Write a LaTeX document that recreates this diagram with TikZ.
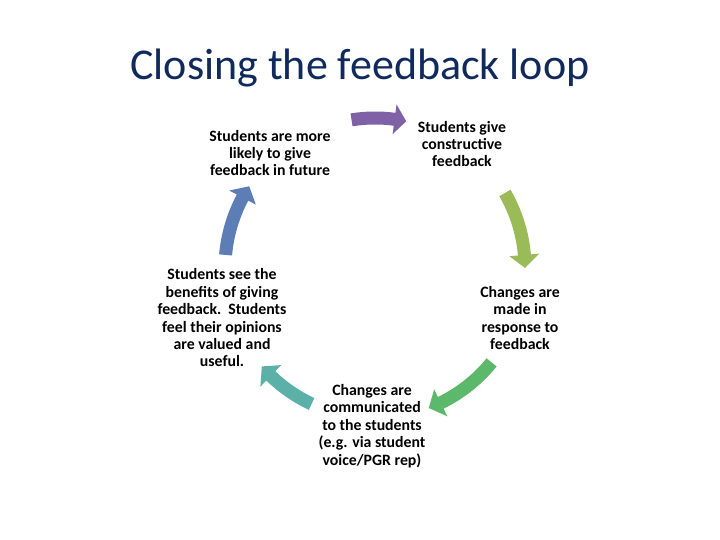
\documentclass[tikz,border=0pt]{standalone}
\usepackage{fontspec}
\setmainfont{Carlito}
\definecolor{cpurple}{HTML}{7F62A5}
\definecolor{clime}{HTML}{9BBB59}
\definecolor{cgreen}{HTML}{5CB86A}
\definecolor{cteal}{HTML}{5BB1A8}
\definecolor{cblue}{HTML}{5C7DB6}
\definecolor{ctitle}{HTML}{112A5E}
\newcommand\cycarrow[4]{%
  \fill[#1] (#2:156.5) arc[start angle=#2, end angle=#3, radius=156.5]
    -- (#3:165) -- (#4:150) -- (#3:135) -- (#3:143.5)
    arc[start angle=#3, end angle=#2, radius=143.5] -- cycle;}
\begin{document}
\begin{tikzpicture}[x=1pt,y=1pt,
  lbl/.style={align=center,font=\fontsize{15.8}{17.4}\selectfont\bfseries,inner sep=0pt}]
\useasboundingbox[fill=white] (0,0) rectangle (720,540);
\node[anchor=base,text=ctitle,font=\fontsize{44}{50}\selectfont] (title) at (360,460) {Closing the feedback loop};
\node[lbl] (t1) at (270,387) {Students are more\\likely to give\\feedback in future};
\node[lbl] (t2) at (462,396) {Students give\\constructive\\feedback};
\node[lbl] (t3) at (520,222) {Changes are\\made in\\response to\\feedback};
\node[lbl] (t4) at (372,114) {Changes are\\communicated\\to the students\\(e.g. via student\\voice/PGR rep)};
\node[lbl] (t5) at (222,222) {Students see the\\benefits of giving\\feedback.\ \ Students\\feel their opinions\\are valued and\\useful.};
\begin{scope}[shift={(375,272)}]
  \coordinate (c) at (0,0);
  \cycarrow{cpurple}{99}{82.5}{78}
  \cycarrow{clime}{30}{5}{0}
  \cycarrow{cgreen}{-39}{-64}{-69}
  \cycarrow{cteal}{-115}{-134}{-139}
  \cycarrow{cblue}{175}{152}{147}
\end{scope}
\end{tikzpicture}
\end{document}
